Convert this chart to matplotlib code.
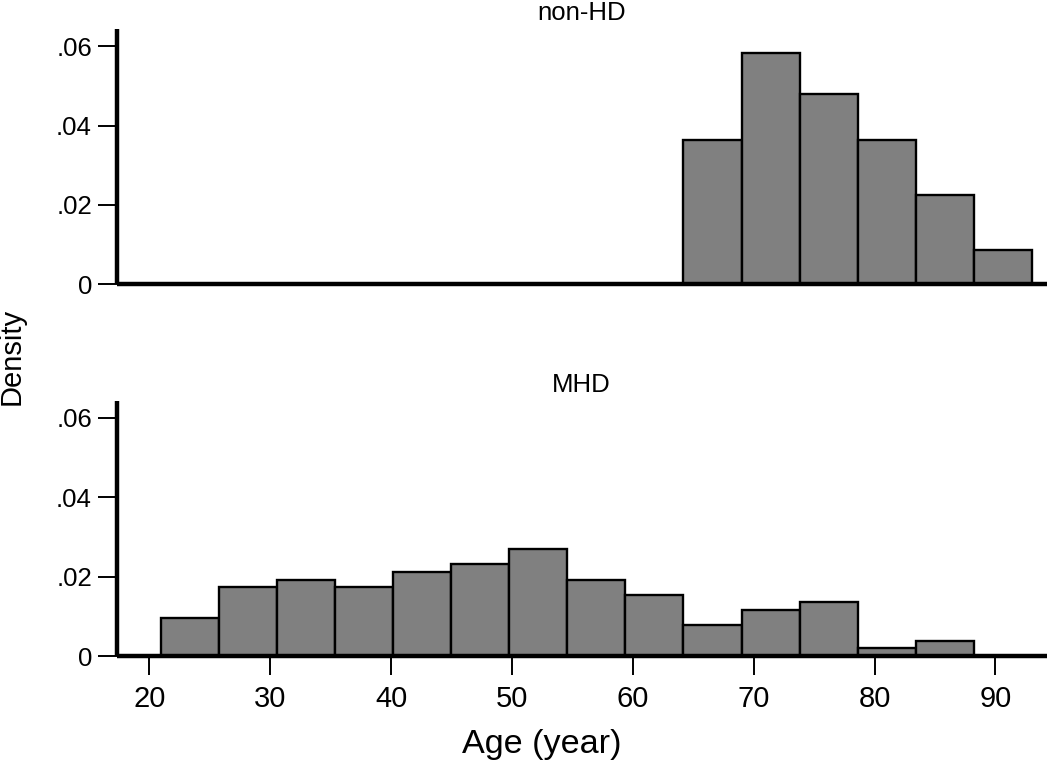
import matplotlib
matplotlib.use("Agg")
import matplotlib.pyplot as plt
import numpy as np

plt.rcParams['font.family'] = ['Liberation Sans', 'DejaVu Sans']

# Shared histogram bin edges (age, years)
age_bin_edges = [20.94, 25.75, 30.55, 35.36, 40.16, 44.97, 49.78, 54.58,
                 59.39, 64.19, 69.00, 73.80, 78.61, 83.42, 88.22, 93.03]

# Densities per bin
nonhd_density = [0, 0, 0, 0, 0, 0, 0, 0, 0,
                 0.0363, 0.0582, 0.0480, 0.0363, 0.0226, 0.0087]
mhd_density = [0.0096, 0.0173, 0.0192, 0.0173, 0.0212, 0.0231, 0.0269,
               0.0192, 0.0154, 0.0077, 0.0115, 0.0135, 0.0019, 0.0038, 0]

panel_titles = ["non-HD", "MHD"]
y_ticks = [0, 0.02, 0.04, 0.06]
y_ticklabels = ["0", ".02", ".04", ".06"]
x_ticks = [20, 30, 40, 50, 60, 70, 80, 90]
x_ticklabels = ["20", "30", "40", "50", "60", "70", "80", "90"]

W, H = 1050, 763
fig = plt.figure(figsize=(W / 100, H / 100), dpi=100)

left = 117 / W
right = 1046.5 / W
ax_top = fig.add_axes([left, 1 - 284.3 / H, right - left, 255 / H])
ax_bot = fig.add_axes([left, 1 - 656 / H, right - left, 255.3 / H])

edges = np.array(age_bin_edges)
widths = np.diff(edges)

for ax, dens, title in [(ax_top, nonhd_density, panel_titles[0]),
                        (ax_bot, mhd_density, panel_titles[1])]:
    d = np.array(dens)
    mask = d > 0
    ax.bar(edges[:-1][mask], d[mask], width=widths[mask], align='edge',
           color='#808080', edgecolor='black', linewidth=1.7, zorder=2)
    ax.set_xlim(17.33, 94.22)
    ax.set_ylim(0, 0.0643)
    for s in ['top', 'right']:
        ax.spines[s].set_visible(False)
    for s in ['left', 'bottom']:
        ax.spines[s].set_linewidth(3.2)
        ax.spines[s].set_zorder(3)
        ax.spines[s].set_capstyle('butt')
    ax.set_yticks(y_ticks)
    ax.set_yticklabels(y_ticklabels)
    ax.tick_params(axis='y', length=14, width=1.4, pad=4, labelsize=18.5)
    ax.set_title(title, fontsize=18.5, pad=6.5)

ax_top.set_xticks([])
ax_bot.set_xticks(x_ticks)
ax_bot.set_xticklabels(x_ticklabels)
ax_bot.tick_params(axis='x', length=14, width=1.4, pad=7, labelsize=21)

fig.text(12 / W, 1 - 356 / H, "Density", rotation=90, ha='center',
         va='center', fontsize=21)
fig.text(542 / W, 1 - 753 / H, "Age (year)", ha='center', va='baseline',
         fontsize=24.6)

fig.savefig("out.png", dpi=100)
